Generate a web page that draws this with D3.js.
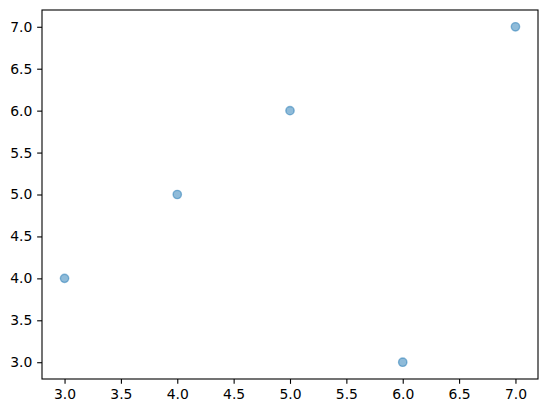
<!DOCTYPE html>
<html><head><meta charset="utf-8">
<script src="https://cdn.jsdelivr.net/npm/d3@7"></script>
<style>body{margin:0;background:#fff}svg{display:block}</style>
</head><body>
<script>
const xValues = [3, 4, 5, 6, 7];
const yValues = [4, 5, 6, 3, 7];
const xTicks = [3.0, 3.5, 4.0, 4.5, 5.0, 5.5, 6.0, 6.5, 7.0];
const yTicks = [3.0, 3.5, 4.0, 4.5, 5.0, 5.5, 6.0, 6.5, 7.0];

const W = 547, H = 413;
const L = 42, R = 538, T = 10, B = 379;
const svg = d3.select("body").append("svg").attr("width", W).attr("height", H);
const x = d3.scaleLinear().domain([2.8, 7.2]).range([L, R]);
const y = d3.scaleLinear().domain([2.8, 7.2]).range([B, T]);
const font = "DejaVu Sans";

const xa = svg.append("g").attr("transform", `translate(0,${B})`)
  .call(d3.axisBottom(x).tickValues(xTicks).tickFormat(d3.format(".1f")).tickSizeOuter(0).tickSize(4.86).tickPadding(4.86));
const ya = svg.append("g").attr("transform", `translate(${L},0)`)
  .call(d3.axisLeft(y).tickValues(yTicks).tickFormat(d3.format(".1f")).tickSizeOuter(0).tickSize(4.86).tickPadding(4.86));
[xa, ya].forEach(a => {
  a.select(".domain").remove();
  a.selectAll("text").attr("font-family", font).attr("font-size", "13.9px").attr("fill", "#000");
  a.selectAll("line").attr("stroke", "#000").attr("stroke-width", 1.1);
});

svg.append("rect").attr("x", L).attr("y", T).attr("width", R - L).attr("height", B - T)
  .attr("fill", "none").attr("stroke", "#000").attr("stroke-width", 1.1);

svg.append("g").selectAll("circle").data(xValues.map((v, i) => [v, yValues[i]])).join("circle")
  .attr("cx", d => x(d[0])).attr("cy", d => y(d[1])).attr("r", 4.17)
  .attr("fill", "#1f77b4").attr("fill-opacity", 0.5)
  .attr("stroke", "#1f77b4").attr("stroke-opacity", 0.5).attr("stroke-width", 1.4);
</script>
</body></html>
